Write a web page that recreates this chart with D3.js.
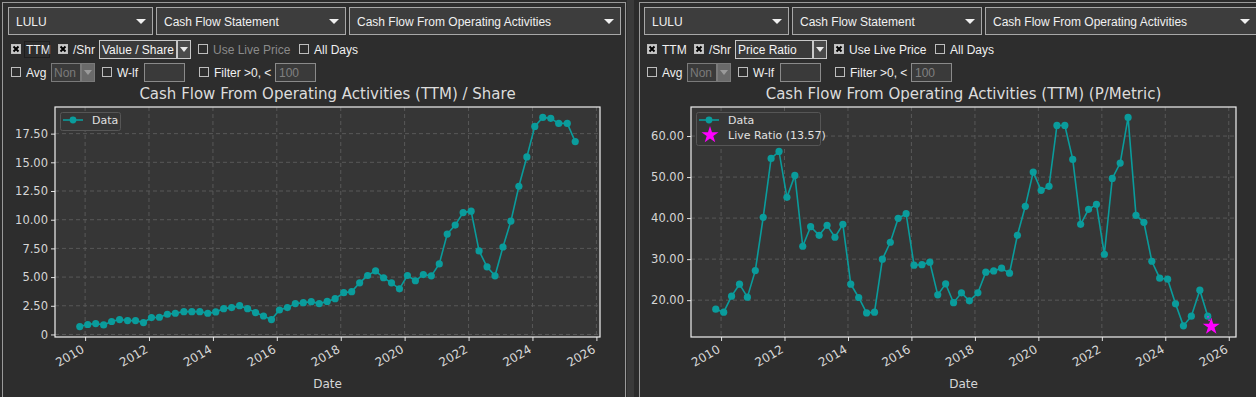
<!DOCTYPE html>
<html>
<head>
<meta charset="utf-8">
<script src="https://cdn.jsdelivr.net/npm/d3@7"></script>
<style>
  body { margin: 0; background: #2b2b2b; }
  svg { display: block; }
</style>
</head>
<body>
<div id="chart"></div>
<script>
// quarter-end dates (fiscal quarters)
const dates = [
  '2009-11-01', '2010-01-31', '2010-05-02', '2010-08-01', '2010-10-31',
  '2011-01-30', '2011-05-01', '2011-07-31', '2011-10-30', '2012-01-29',
  '2012-04-29', '2012-07-29', '2012-10-28', '2013-02-03', '2013-05-05',
  '2013-08-04', '2013-11-03', '2014-02-02', '2014-05-04', '2014-08-03',
  '2014-11-02', '2015-02-01', '2015-05-03', '2015-08-02', '2015-11-01',
  '2016-01-31', '2016-05-01', '2016-07-31', '2016-10-30', '2017-01-29',
  '2017-04-30', '2017-07-30', '2017-10-29', '2018-02-04', '2018-05-06',
  '2018-08-05', '2018-11-04', '2019-02-03', '2019-05-05', '2019-08-04',
  '2019-11-03', '2020-02-02', '2020-05-03', '2020-08-02', '2020-11-01',
  '2021-01-31', '2021-05-02', '2021-08-01', '2021-10-31', '2022-01-30',
  '2022-05-01', '2022-07-31', '2022-10-30', '2023-01-29', '2023-04-30',
  '2023-07-30', '2023-10-29', '2024-01-28', '2024-04-28', '2024-07-28',
  '2024-10-27', '2025-02-02', '2025-05-04'
];

// Cash flow from operating activities (TTM) per share
const perShare = [
  0.69, 0.87, 0.95, 0.83, 1.13, 1.30, 1.21, 1.21, 1.04, 1.47,
  1.50, 1.76, 1.85, 1.99, 1.99, 1.99, 1.85, 1.96, 2.25, 2.34,
  2.51, 2.25, 1.91, 1.61, 1.30, 2.13, 2.34, 2.69, 2.77, 2.86,
  2.69, 2.88, 3.12, 3.64, 3.73, 4.50, 5.14, 5.54, 4.94, 4.50,
  3.98, 5.14, 4.68, 5.22, 5.11, 6.15, 8.75, 9.53, 10.62, 10.74,
  7.28, 5.89, 5.11, 7.62, 9.88, 12.91, 15.47, 18.13, 18.91, 18.83,
  18.39, 18.39, 16.81
];

// price / metric ratio
const priceRatio = [
  17.81, 17.08, 20.97, 23.89, 20.73, 27.20, 40.19, 54.55, 56.25, 45.06,
  50.41, 33.14, 37.91, 35.81, 38.25, 35.33, 38.49, 23.89, 20.65, 16.90,
  17.08, 29.98, 34.11, 39.95, 41.07, 28.52, 28.66, 29.25, 21.29, 23.97,
  19.38, 21.78, 19.83, 21.78, 26.81, 27.13, 27.79, 26.57, 35.81, 42.87,
  51.22, 46.76, 47.74, 62.58, 62.58, 54.31, 38.49, 42.14, 43.36, 31.19,
  49.68, 53.41, 64.53, 40.68, 38.98, 29.49, 25.35, 25.11, 19.10, 13.75,
  16.10, 22.43, 16.10
];

const liveDate = '2025-06-13';
const liveRatio = 13.57;

const xTickYears = [2010, 2012, 2014, 2016, 2018, 2020, 2022, 2024, 2026];
const leftYTicks = [0, 2.5, 5, 7.5, 10, 12.5, 15, 17.5];
const rightYTicks = [20, 30, 40, 50, 60];

const parse = d3.timeParse('%Y-%m-%d');
const uiFont = "'Liberation Sans', Arial, sans-serif";
const mplFont = "'DejaVu Sans', sans-serif";
const teal = '#0a9c9c';

const svg = d3.select('#chart').append('svg')
  .attr('width', 1256)
  .attr('height', 397);

svg.append('rect').attr('width', 1256).attr('height', 397).attr('fill', '#2b2b2b');

// frames
svg.append('rect').attr('x', 2.5).attr('y', 2.5).attr('width', 623).attr('height', 400)
  .attr('fill', '#2d2d2d').attr('stroke', '#9a9a9a');
svg.append('rect').attr('x', 627).attr('y', 0).attr('width', 7).attr('height', 397).attr('fill', '#3a3a3a');
svg.append('rect').attr('x', 639.5).attr('y', 2.5).attr('width', 630).attr('height', 400)
  .attr('fill', '#2d2d2d').attr('stroke', '#9a9a9a');

const dropdown = (g, x, w, label) => {
  g.append('rect').attr('x', x + 0.5).attr('y', 7.5).attr('width', w).attr('height', 27)
    .attr('fill', '#3d3d3d').attr('stroke', '#a8a8a8');
  g.append('text').attr('x', x + 8).attr('y', 26).attr('fill', '#f0f0f0')
    .style('font-family', uiFont).style('font-size', '12px').text(label);
  const ax = x + w - 11;
  g.append('path').attr('d', `M${ax - 5},19 L${ax + 5},19 L${ax},24 Z`).attr('fill', '#f0f0f0');
};

const checkbox = (g, x, y, checked, label, disabled) => {
  g.append('rect').attr('x', x + 0.5).attr('y', y + 0.5).attr('width', 9).attr('height', 9)
    .attr('fill', checked ? '#c8c8c8' : '#2d2d2d').attr('stroke', '#bdbdbd');
  if (checked) {
    g.append('path').attr('d', `M${x + 2.5},${y + 2.5} L${x + 7.5},${y + 7.5} M${x + 7.5},${y + 2.5} L${x + 2.5},${y + 7.5}`)
      .attr('stroke', '#000').attr('stroke-width', 2);
  }
  g.append('text').attr('x', x + 15).attr('y', y + 9.5)
    .attr('fill', disabled ? '#8a8a8a' : '#f0f0f0')
    .style('font-family', uiFont).style('font-size', '12px').text(label);
};

const combo = (g, x, y, w, label, disabled) => {
  const c = disabled ? '#7a7a7a' : '#c8c8c8';
  g.append('rect').attr('x', x + 0.5).attr('y', y + 0.5).attr('width', w).attr('height', 18)
    .attr('fill', '#3a3a3a').attr('stroke', c);
  g.append('text').attr('x', x + 3).attr('y', y + 14)
    .attr('fill', disabled ? '#7a7a7a' : '#f4f4f4')
    .style('font-family', uiFont).style('font-size', '12px').text(label);
  g.append('rect').attr('x', x + w + 1.5).attr('y', y + 0.5).attr('width', 13).attr('height', 18)
    .attr('fill', disabled ? '#6a6a6a' : '#4a4a4a').attr('stroke', c);
  const ax = x + w + 8;
  g.append('path').attr('d', `M${ax - 4},${y + 7} L${ax + 4},${y + 7} L${ax},${y + 12} Z`)
    .attr('fill', disabled ? '#9a9a9a' : '#e8e8e8');
};

const input = (g, x, y, w, value) => {
  g.append('rect').attr('x', x + 0.5).attr('y', y + 0.5).attr('width', w).attr('height', 18)
    .attr('fill', '#3a3a3a').attr('stroke', '#8a8a8a');
  if (value) {
    g.append('text').attr('x', x + 4).attr('y', y + 14).attr('fill', '#808080')
      .style('font-family', uiFont).style('font-size', '12px').text(value);
  }
};

const drawPanel = (ox, opt) => {
  const g = svg.append('g').attr('transform', `translate(${ox},0)`);

  dropdown(g, 8, 144, 'LULU');
  dropdown(g, 156, 189, 'Cash Flow Statement');
  dropdown(g, 349, 271, 'Cash Flow From Operating Activities');

  checkbox(g, 11, 44, true, 'TTM');
  if (opt.focus) {
    g.append('rect').attr('x', 24.5).attr('y', 41.5).attr('width', 25).attr('height', 16)
      .attr('fill', 'none').attr('stroke', '#111').attr('stroke-dasharray', '1,1');
  }
  checkbox(g, 58, 44, true, '/Shr');
  combo(g, 99, 40, 77, opt.mode, false);
  checkbox(g, 198, 44, opt.live, 'Use Live Price', !opt.live);
  checkbox(g, 299, 44, false, 'All Days');

  checkbox(g, 11, 67, false, 'Avg');
  combo(g, 51, 63, 29, 'Non', true);
  checkbox(g, 102, 67, false, 'W-lf');
  input(g, 144, 63, 40, '');
  checkbox(g, 199, 67, false, 'Filter >0, <');
  input(g, 275, 63, 40, '100');

  // chart
  const pl = 55, pr = 600, pt = 107, pb = 337;
  const data = dates.map((d, i) => ({ date: parse(d), value: opt.values[i] }));
  const allDates = data.map((d) => d.date);
  const allVals = data.map((d) => d.value);
  if (opt.live) {
    allDates.push(parse(liveDate));
    allVals.push(liveRatio);
  }
  const dx = d3.extent(allDates);
  const span = dx[1] - dx[0];
  const x = d3.scaleTime()
    .domain([new Date(+dx[0] - span * 0.05), new Date(+dx[1] + span * 0.05)])
    .range([pl, pr]);
  const vy = d3.extent(allVals);
  const vspan = vy[1] - vy[0];
  const y = d3.scaleLinear()
    .domain([vy[0] - vspan * 0.05, vy[1] + vspan * 0.05])
    .range([pb, pt]);

  g.append('text').attr('x', (pl + pr) / 2).attr('y', 99).attr('text-anchor', 'middle')
    .attr('fill', '#dcdcdc').style('font-family', mplFont).style('font-size', '15px')
    .text(opt.title);

  g.append('rect').attr('x', pl).attr('y', pt).attr('width', pr - pl).attr('height', pb - pt)
    .attr('fill', '#363636');

  const xTicks = xTickYears.map((yr) => new Date(yr, 0, 1));

  // grid
  g.append('g').selectAll('line.vg').data(xTicks).enter().append('line')
    .attr('x1', (d) => x(d)).attr('x2', (d) => x(d)).attr('y1', pt).attr('y2', pb)
    .attr('stroke', '#585858').attr('stroke-dasharray', '4,3');
  g.append('g').selectAll('line.hg').data(opt.yTicks).enter().append('line')
    .attr('x1', pl).attr('x2', pr).attr('y1', (d) => y(d)).attr('y2', (d) => y(d))
    .attr('stroke', '#585858').attr('stroke-dasharray', '4,3');

  // axes
  const xAxis = g.append('g').attr('transform', `translate(0,${pb})`)
    .call(d3.axisBottom(x).tickValues(xTicks).tickFormat(d3.timeFormat('%Y')).tickSize(4).tickSizeOuter(0));
  xAxis.select('.domain').remove();
  xAxis.selectAll('line').attr('stroke', '#e0e0e0');
  xAxis.selectAll('text')
    .attr('fill', '#d6d6d6').style('font-family', mplFont).style('font-size', '12px')
    .attr('text-anchor', 'end').attr('x', 0).attr('y', 0).attr('dy', '0.75em')
    .attr('transform', 'translate(-5,7) rotate(-30)');

  const yAxis = g.append('g').attr('transform', `translate(${pl},0)`)
    .call(d3.axisLeft(y).tickValues(opt.yTicks)
      .tickFormat((d) => (d === 0 ? '0' : d3.format('.2f')(d))).tickSize(4).tickSizeOuter(0));
  yAxis.select('.domain').remove();
  yAxis.selectAll('line').attr('stroke', '#e0e0e0');
  yAxis.selectAll('text').attr('fill', '#d6d6d6').style('font-family', mplFont).style('font-size', '11.5px')
    .attr('x', -7);

  g.append('rect').attr('x', pl).attr('y', pt).attr('width', pr - pl).attr('height', pb - pt)
    .attr('fill', 'none').attr('stroke', '#f0f0f0').attr('stroke-width', 1.2);

  g.append('text').attr('x', (pl + pr) / 2).attr('y', 388).attr('text-anchor', 'middle')
    .attr('fill', '#d6d6d6').style('font-family', mplFont).style('font-size', '12px').text('Date');

  // series
  const line = d3.line().x((d) => x(d.date)).y((d) => y(d.value));
  g.append('path').datum(data).attr('d', line).attr('fill', 'none')
    .attr('stroke', teal).attr('stroke-width', 1.6);
  g.append('g').selectAll('circle').data(data).enter().append('circle')
    .attr('cx', (d) => x(d.date)).attr('cy', (d) => y(d.value)).attr('r', 3.6)
    .attr('fill', teal);

  if (opt.live) {
    const last = data[data.length - 1];
    const lx = x(parse(liveDate)), ly = y(liveRatio);
    g.append('line').attr('x1', x(last.date)).attr('y1', y(last.value)).attr('x2', lx).attr('y2', ly)
      .attr('stroke', '#ff00ff').attr('stroke-width', 1.5).attr('stroke-dasharray', '1.5,2');
    g.append('path').attr('d', d3.symbol(d3.symbolStar, 90)())
      .attr('transform', `translate(${lx},${ly})`).attr('fill', '#ff00ff');
  }

  // legend
  const lg = g.append('g');
  lg.append('rect').attr('x', 60.5).attr('y', 112.5).attr('rx', 2)
    .attr('width', opt.live ? 124 : 60).attr('height', opt.live ? 33 : 18)
    .attr('fill', '#363636').attr('stroke', '#565656');
  lg.append('line').attr('x1', 63).attr('x2', 83).attr('y1', 120).attr('y2', 120)
    .attr('stroke', teal).attr('stroke-width', 1.6);
  lg.append('circle').attr('cx', 73).attr('cy', 120).attr('r', 3.4).attr('fill', teal);
  lg.append('text').attr('x', 92).attr('y', 124).attr('fill', '#e0e0e0')
    .style('font-family', mplFont).style('font-size', '11px').text('Data');
  if (opt.live) {
    lg.append('path').attr('d', d3.symbol(d3.symbolStar, 90)())
      .attr('transform', 'translate(74,135)').attr('fill', '#ff00ff');
    lg.append('text').attr('x', 92).attr('y', 139).attr('fill', '#e0e0e0')
      .style('font-family', mplFont).style('font-size', '11px').text(`Live Ratio (${liveRatio})`);
  }
};

drawPanel(0, {
  mode: 'Value / Share',
  live: false,
  focus: true,
  values: perShare,
  yTicks: leftYTicks,
  title: 'Cash Flow From Operating Activities (TTM) / Share'
});

drawPanel(636, {
  mode: 'Price Ratio',
  live: true,
  focus: false,
  values: priceRatio,
  yTicks: rightYTicks,
  title: 'Cash Flow From Operating Activities (TTM) (P/Metric)'
});
</script>
</body>
</html>
